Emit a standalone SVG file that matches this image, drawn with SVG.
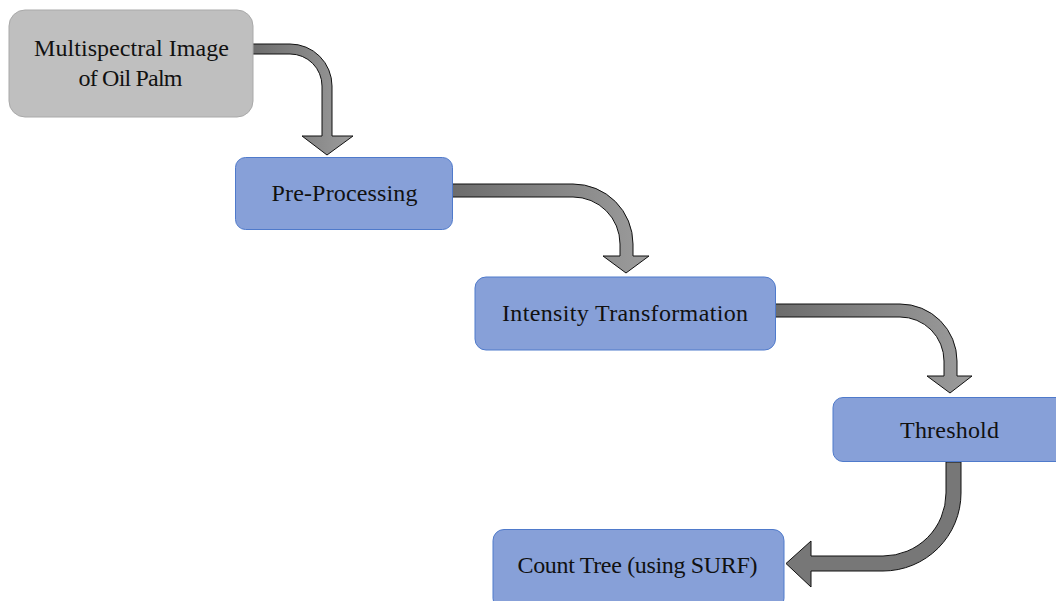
<svg xmlns="http://www.w3.org/2000/svg" width="1056" height="601" viewBox="0 0 1056 601">
<defs>
<linearGradient id="g" x1="0" y1="0" x2="1" y2="0">
<stop offset="0" stop-color="#6c6c6c"/>
<stop offset="1" stop-color="#9c9c9c"/>
</linearGradient>
<style>
.gray{fill:#bfbfbf;stroke:#a9a9a9;stroke-width:1}
.blue{fill:#87a0d8;stroke:#4f7acb;stroke-width:1}
.t{font-family:"Liberation Serif","Times New Roman",serif;font-size:24px;fill:#111;text-anchor:middle}
.arr{fill:url(#g);stroke:#111;stroke-width:1;stroke-linejoin:miter}
.arr2{fill:#777777;stroke:#111;stroke-width:1}
</style>
</defs>
<rect width="1056" height="601" fill="#ffffff"/>
<g id="connectors">
<path class="arr" d="M252,44 H290 A42,42 0 0 1 332,86 V136 H353 L327,155 L302,136 H322 V86 A32,32 0 0 0 290,54 H252 Z"/>
<path class="arr" d="M451,184 H573 A60,60 0 0 1 633,244 V256 H649 L626,273 L603,256 H620 V244 A47,47 0 0 0 573,197 H451 Z"/>
<path class="arr" d="M775,304 H900 A57,57 0 0 1 957,361 V376 H972 L950,393 L927,376 H944 V361 A44,44 0 0 0 900,317 H775 Z"/>
<path class="arr2" d="M946,462 H961 V493 A78,78 0 0 1 883,571 H811 V587 L786,563.5 L811,541 V556 H883 A63,63 0 0 0 946,493 Z"/>
</g>
<g id="node1">
<rect class="gray" x="9" y="10" width="244" height="107" rx="16"/>
<text class="t" x="131.5" y="56" textLength="195">Multispectral Image</text>
<text class="t" x="130.5" y="86" textLength="104">of Oil Palm</text>
</g>
<g id="node2">
<rect class="blue" x="235.5" y="157.5" width="217" height="72" rx="10"/>
<text class="t" x="344.5" y="201" textLength="146">Pre-Processing</text>
</g>
<g id="node3">
<rect class="blue" x="475" y="277" width="300.5" height="73" rx="11"/>
<text class="t" x="625" y="321" textLength="246">Intensity Transformation</text>
</g>
<g id="node4">
<rect class="blue" x="833" y="397.5" width="233" height="64" rx="10"/>
<text class="t" x="949.5" y="437.5" textLength="99">Threshold</text>
</g>
<g id="node5">
<rect class="blue" x="493" y="529.5" width="291" height="80" rx="11"/>
<text class="t" x="637.5" y="573" textLength="240">Count Tree (using SURF)</text>
</g>
</svg>
